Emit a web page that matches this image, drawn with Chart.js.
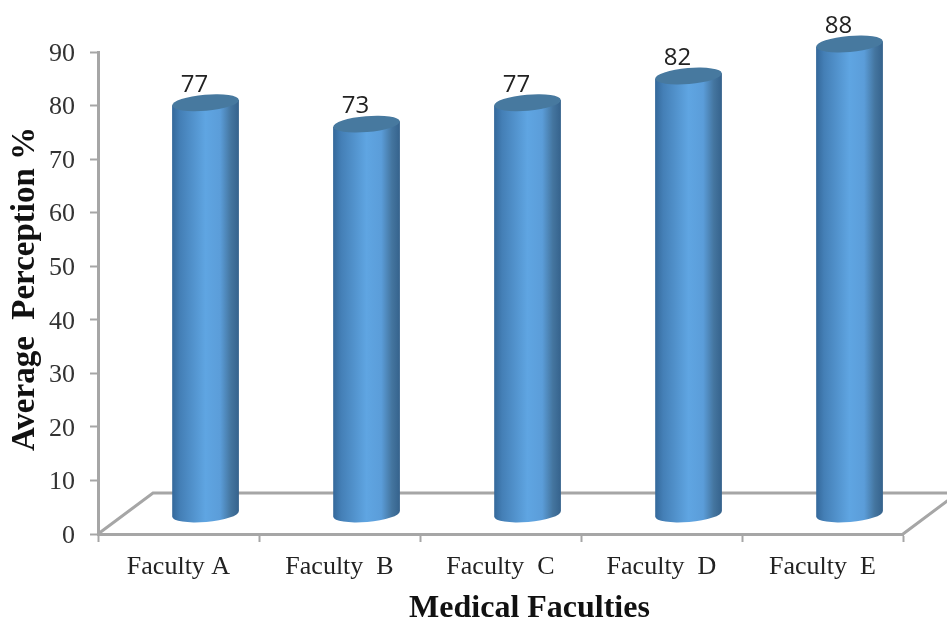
<!DOCTYPE html>
<html>
<head>
<meta charset="utf-8">
<title>Average Perception</title>
<script src="https://cdn.jsdelivr.net/npm/chart.js@4"></script>
<style>
  html, body { margin: 0; padding: 0; background: #fff; overflow: hidden; }
  canvas { display: block; }
</style>
</head>
<body>
<canvas id="perceptionChart" width="947" height="621"></canvas>
<script>
const faculties = ['Faculty A', 'Faculty  B', 'Faculty  C', 'Faculty  D', 'Faculty  E'];
const perception = [77, 73, 77, 82, 88];
const yTicks = [0, 10, 20, 30, 40, 50, 60, 70, 80, 90];
const xTitle = 'Medical Faculties';
const yTitle = 'Average  Perception %';

const AXIS_GRAY = '#a6a6a6';
const DEPTH_X = 27;      // how far the columns sit back from the axis plane
const FLOOR_DX = 55;     // floor depth
const FLOOR_DY = 41;
const TILT = -0.085;

function cylinderGradient(ctx, left, right) {
  const g = ctx.createLinearGradient(left, 0, right, 0);
  g.addColorStop(0, '#34689a');
  g.addColorStop(0.12, '#447fb6');
  g.addColorStop(0.5, '#5fa5e2');
  g.addColorStop(0.72, '#5b9dd9');
  g.addColorStop(0.88, '#44759f');
  g.addColorStop(1, '#35628c');
  return g;
}

// Floor of the 3D plot, behind the columns
const floorPlugin = {
  id: 'floor',
  beforeDatasetsDraw(chart) {
    const { ctx, chartArea } = chart;
    const x0 = chartArea.left;
    const x1 = chartArea.right;
    const y0 = chart.scales.y.getPixelForValue(0);
    ctx.save();
    ctx.strokeStyle = AXIS_GRAY;
    ctx.lineWidth = 3;
    ctx.beginPath();
    ctx.moveTo(x0, y0);
    ctx.lineTo(x0 + FLOOR_DX, y0 - FLOOR_DY);
    ctx.lineTo(chart.width, y0 - FLOOR_DY);
    ctx.moveTo(x1, y0);
    ctx.lineTo(x1 + FLOOR_DX, y0 - FLOOR_DY);
    ctx.stroke();
    ctx.restore();
  }
};

// Bars come out as cylinders, positioned from the bar elements
const cylinderPlugin = {
  id: 'cylinders',
  beforeDatasetDraw(chart, args) {
    const { ctx } = chart;
    const meta = args.meta;
    meta.data.forEach((bar, i) => {
      const cx = bar.x + DEPTH_X;
      const rx = bar.width / 2;
      const ry = 8;
      const top = bar.y;
      const bottom = bar.base;
      const left = cx - rx;
      const right = cx + rx;
      const dy = Math.sin(TILT) * rx;

      ctx.save();
      ctx.fillStyle = cylinderGradient(ctx, left, right);
      ctx.beginPath();
      ctx.moveTo(left, top - dy);
      ctx.lineTo(right, top + dy);
      ctx.lineTo(right, bottom + dy);
      ctx.ellipse(cx, bottom, rx, ry, TILT, 0, Math.PI);
      ctx.closePath();
      ctx.fill();

      ctx.fillStyle = '#47799f';
      ctx.beginPath();
      ctx.ellipse(cx, top, rx, ry, TILT, 0, Math.PI * 2);
      ctx.fill();

      ctx.fillStyle = '#222';
      ctx.font = '24px "Open Sans", sans-serif';
      ctx.textAlign = 'center';
      ctx.textBaseline = 'middle';
      ctx.fillText(perception[i], cx - 11, top - 18);
      ctx.restore();
    });
    return false;
  }
};

// Axis titles sit off-centre from the scales because of the floor depth
const axisTitlesPlugin = {
  id: 'axisTitles',
  afterDraw(chart) {
    const { ctx, chartArea } = chart;
    ctx.save();
    ctx.fillStyle = '#111';
    ctx.textAlign = 'center';
    ctx.textBaseline = 'middle';

    ctx.font = 'bold 32px "Liberation Serif"';
    ctx.fillText(xTitle, (chartArea.left + chart.width) / 2 + 7, 609);

    ctx.translate(25, (chartArea.top + chartArea.bottom) / 2 - 4);
    ctx.rotate(-Math.PI / 2);
    ctx.font = 'bold 33px "Liberation Serif"';
    ctx.fillText(yTitle, 0, 0);
    ctx.restore();
  }
};

const ctx = document.getElementById('perceptionChart').getContext('2d');
new Chart(ctx, {
  type: 'bar',
  data: {
    labels: faculties,
    datasets: [{
      data: perception,
      yAxisID: 'columns',
      barPercentage: 0.415,
      categoryPercentage: 1
    }]
  },
  plugins: [floorPlugin, cylinderPlugin, axisTitlesPlugin],
  options: {
    responsive: false,
    animation: false,
    layout: { padding: { top: 52, right: 44, bottom: 0, left: 0 } },
    plugins: {
      legend: { display: false },
      title: { display: false },
      tooltip: { enabled: false }
    },
    scales: {
      x: {
        grid: { drawOnChartArea: false, tickLength: 8, tickColor: AXIS_GRAY, tickWidth: 2 },
        border: { color: AXIS_GRAY, width: 3 },
        ticks: {
          color: '#222',
          font: { family: '"Liberation Serif"', size: 26 },
          maxRotation: 0,
          autoSkip: false,
          padding: 10
        },
        afterFit(scale) { scale.height = 87; }
      },
      y: {
        min: 0,
        max: 90,
        grid: { drawOnChartArea: false, tickLength: 8, tickColor: AXIS_GRAY, tickWidth: 2 },
        border: { color: AXIS_GRAY, width: 3 },
        afterBuildTicks(scale) { scale.ticks = yTicks.map(v => ({ value: v })); },
        ticks: {
          color: '#333',
          font: { family: '"Liberation Serif"', size: 26 },
          padding: 15,
          labelOffset: 2
        },
        afterFit(scale) { scale.width = 98; }
      },
      // Columns stand on the floor, so they use their own slightly shorter scale
      columns: {
        display: false,
        min: -3.75,
        max: 86.5
      }
    }
  }
});
</script>
</body>
</html>
